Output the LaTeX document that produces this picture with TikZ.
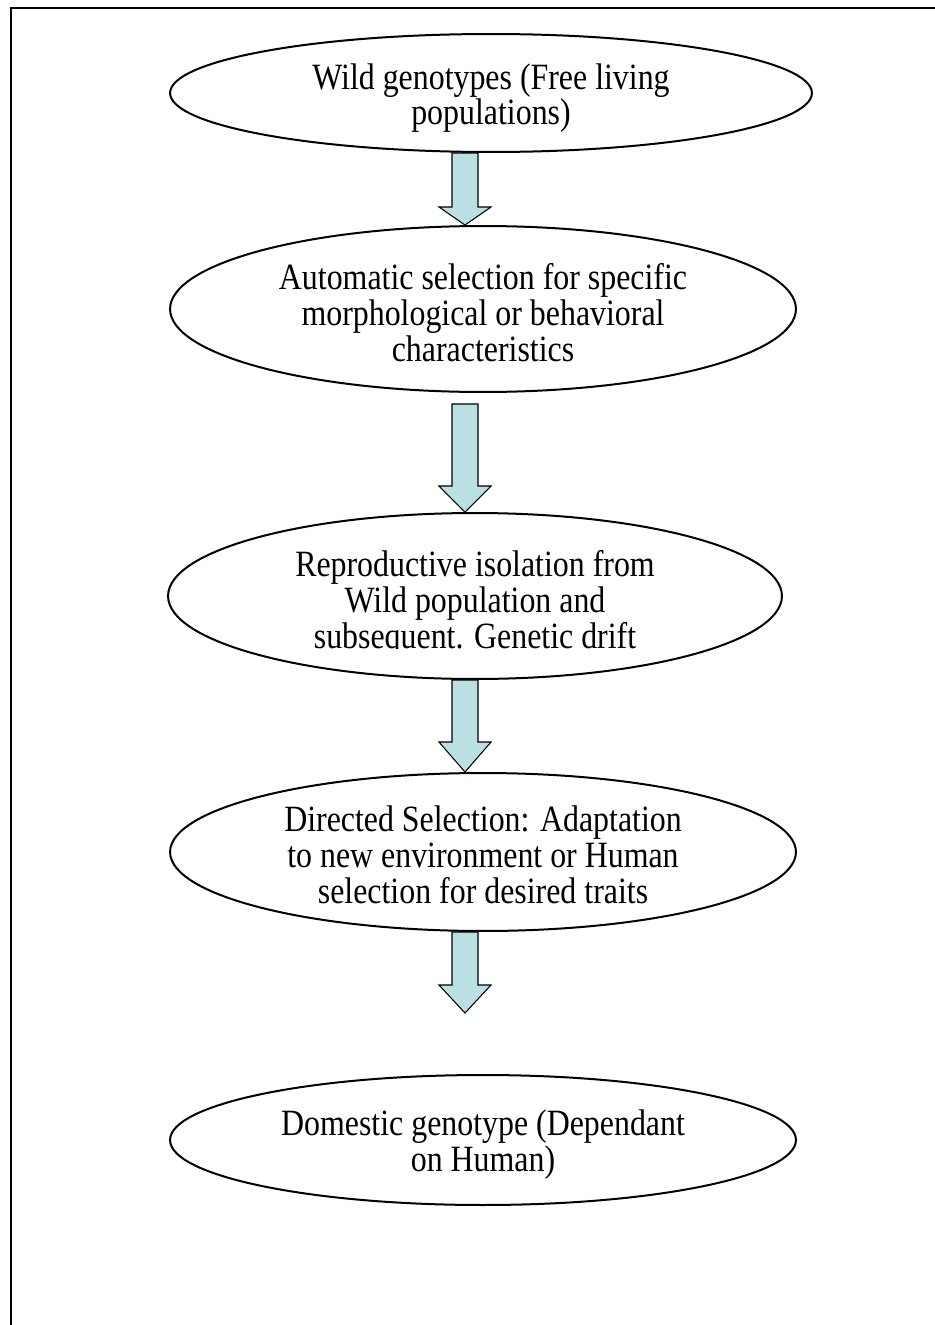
\documentclass[tikz,border=0pt]{standalone}
\usepackage{fontspec}
\setmainfont{Liberation Serif}[FakeStretch=0.86]
\usepackage{tikz}
\usetikzlibrary{calc,shapes,positioning}
\definecolor{Paleblue}{RGB}{187,224,227}
\tikzset{
  stage/.style={ellipse, draw, line width=0.04cm, inner sep=0pt},
  stagetext/.style={align=center, inner sep=0pt, font=\fontsize{21.1}{20.5}\selectfont},
  flowarrow/.style={draw, fill=Paleblue, line width=0.6pt, line join=miter}
}
% block arrow: start, tip, head length
\newcommand{\stagearrow}[3]{%
\draw[flowarrow] ($(#1)+(-13,0)$) -- ($(#1)+(13,0)$) -- ($(#2)+(13,-#3)$)
  -- ($(#2)+(26,-#3)$) -- (#2) -- ($(#2)+(-26,-#3)$) -- ($(#2)+(-13,-#3)$) -- cycle;}

\begin{document}
\begin{tikzpicture}[x=0.02cm,y=-0.02cm]
\useasboundingbox (0,0) rectangle (934,1325);
\draw[line width=0.04cm] (945,8) -- (11,8) -- (11,1335);
\coordinate (axis) at (465,0);
%
\node[stage, minimum width=12.84cm, minimum height=2.36cm] (wild) at (491,93) {};
\node[stagetext, font=\fontsize{21.1}{18.8}\selectfont] (wildtext) at (491,98)
  {Wild genotypes (Free living\\ populations)};
\node[stage, minimum width=12.52cm, minimum height=3.32cm] (auto) at (483,309) {};
\node[stagetext] (autotext) at (483,313)
  {Automatic selection for specific\\ morphological or behavioral\\ characteristics};
\node[stage, minimum width=12.28cm, minimum height=3.32cm] (iso) at (475,596) {};
\begin{scope}
\clip (0,0) rectangle (934,648);
\node[stagetext] (isotext) at (475,603)
  {Reproductive isolation from\\ Wild population and\\ subsequent. Genetic drift};
\end{scope}
\node[stage, minimum width=12.52cm, minimum height=3.16cm] (direct) at (483,852) {};
\node[stagetext] (directtext) at (483,855)
  {Directed Selection: Adaptation\\ to new environment or Human\\ selection for desired traits};
\node[stage, minimum width=12.52cm, minimum height=2.6cm] (dom) at (483,1140) {};
\node[stagetext] (domtext) at (483,1145)
  {Domestic genotype (Dependant\\ on Human)};
%
\coordinate (s1) at (wild.south -| axis);
\coordinate (t1) at (auto.north -| axis);
\coordinate (s2) at ($(auto.south -| axis)+(0,11)$);
\coordinate (t2) at (iso.north -| axis);
\coordinate (s3) at (iso.south -| axis);
\coordinate (t3) at (direct.north -| axis);
\coordinate (s4) at (direct.south -| axis);
\coordinate (t4) at (465,1013);
\stagearrow{s1}{t1}{18}
\stagearrow{s2}{t2}{26}
\stagearrow{s3}{t3}{30}
\stagearrow{s4}{t4}{28}
%
\end{tikzpicture}
\end{document}
